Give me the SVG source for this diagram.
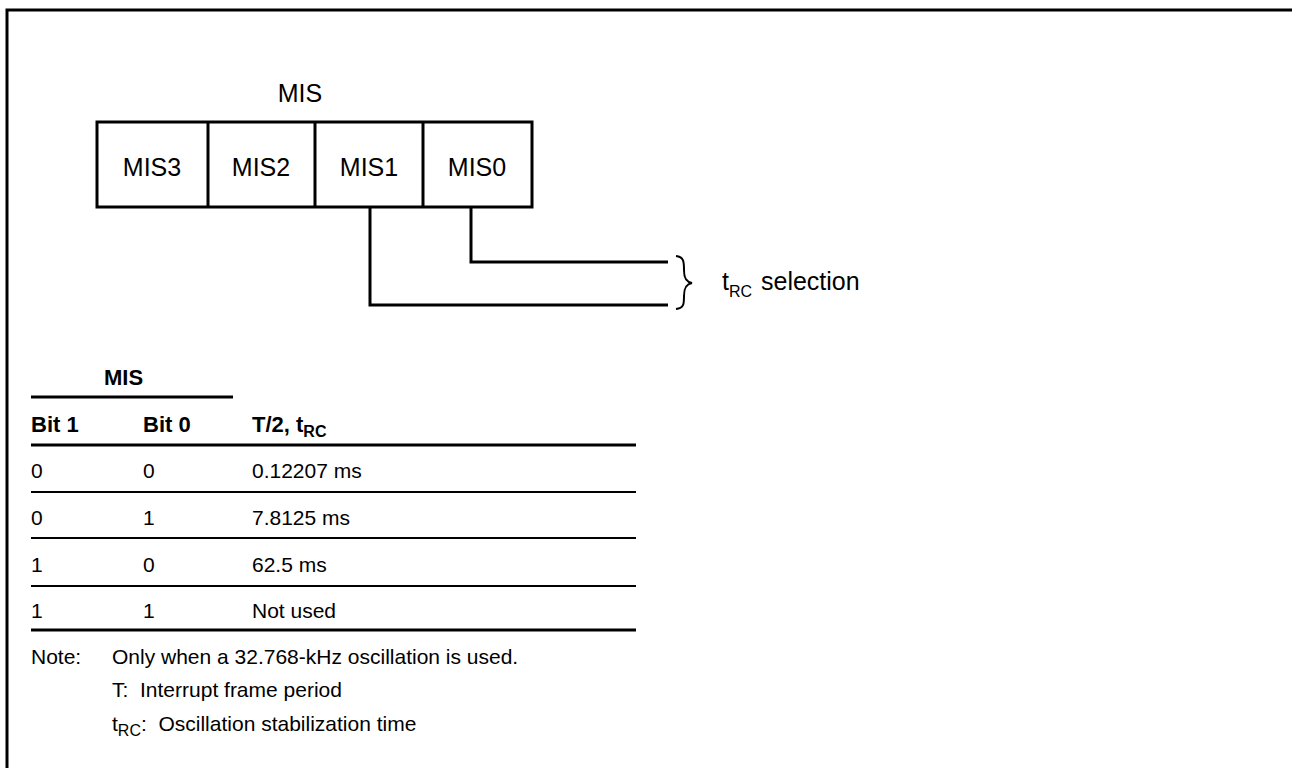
<svg xmlns="http://www.w3.org/2000/svg" width="1292" height="768" viewBox="0 0 1292 768">
<style>
text{font-family:"Liberation Sans",Arial,Helvetica,sans-serif;fill:#000}
.big{font-size:25px}
.tb{font-size:21px}
.bold{font-weight:bold}
.sub{font-size:16px}
.ln{stroke:#000;fill:none;stroke-width:3}
.thin{stroke:#000;fill:none;stroke-width:2}
</style>
<rect width="1292" height="768" fill="#fff"/>
<g id="frame"><path class="ln" d="M7,768 V10 H1292"/></g>
<g id="register">
<text class="big" x="300" y="102" text-anchor="middle">MIS</text>
<rect class="ln" x="97" y="122" width="435" height="85"/>
<path class="ln" d="M208,122V207M315,122V207M423,122V207"/>
</g>
<g id="mis3"><text class="big" x="152" y="176" text-anchor="middle">MIS3</text></g>
<g id="mis2"><text class="big" x="261" y="176" text-anchor="middle">MIS2</text></g>
<g id="mis1"><text class="big" x="369" y="176" text-anchor="middle">MIS1</text></g>
<g id="mis0"><text class="big" x="477" y="176" text-anchor="middle">MIS0</text></g>
<g id="connectors">
<path class="ln" d="M370,207V305H668"/>
<path class="ln" d="M471,207V262H668"/>
<path class="thin" d="M676,256 C684,257 684,262 684,270 C684,278 686,282 692,283 C686,284 684,288 684,296 C684,304 684,308 676,309"/>
</g>
<g id="trc-selection"><text class="big" x="722" y="290">t<tspan class="sub" font-size="20" dy="7">RC</tspan><tspan x="761" dy="-7">selection</tspan></text></g>
<g id="table">
<text class="bold" x="104" y="385" font-size="22">MIS</text>
<path class="ln" d="M31,397H233"/>
<text class="bold" x="31" y="432" font-size="22">Bit 1</text>
<text class="bold" x="143" y="432" font-size="22">Bit 0</text>
<text class="bold" x="252" y="432" font-size="22">T/2, t<tspan class="sub" dy="5">RC</tspan></text>
<path class="ln" d="M31,445H636"/>
<text class="tb" x="31" y="478">0</text><text class="tb" x="143" y="478">0</text><text class="tb" x="252" y="478">0.12207 ms</text>
<path class="thin" d="M31,492H636"/>
<text class="tb" x="31" y="525">0</text><text class="tb" x="143" y="525">1</text><text class="tb" x="252" y="525">7.8125 ms</text>
<path class="thin" d="M31,538H636"/>
<text class="tb" x="31" y="572">1</text><text class="tb" x="143" y="572">0</text><text class="tb" x="252" y="572">62.5 ms</text>
<path class="thin" d="M31,586H636"/>
<text class="tb" x="31" y="618">1</text><text class="tb" x="143" y="618">1</text><text class="tb" x="252" y="618">Not used</text>
<path class="ln" d="M31,630H636"/>
</g>
<g id="note">
<text class="tb" x="31" y="664">Note:</text>
<text class="tb" x="112" y="664">Only when a 32.768-kHz oscillation is used.</text>
<text class="tb" x="112" y="697" xml:space="preserve">T:  Interrupt frame period</text>
<text class="tb" x="112" y="731">t<tspan class="sub" dy="5">RC</tspan><tspan dy="-5" xml:space="preserve">:  Oscillation stabilization time</tspan></text>
</g>
</svg>
